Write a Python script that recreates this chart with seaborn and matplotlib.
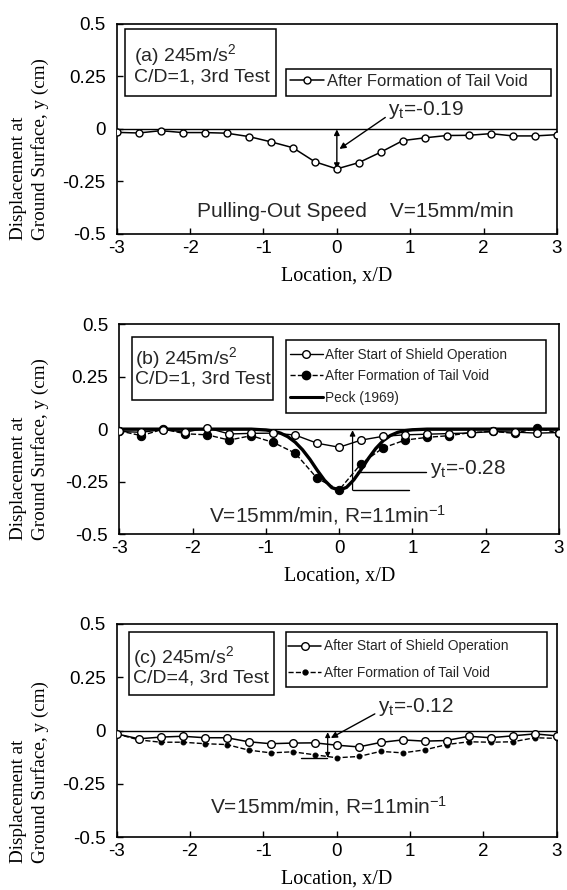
import matplotlib
matplotlib.use("Agg")
import matplotlib.pyplot as plt
from matplotlib.patches import Rectangle
from matplotlib.lines import Line2D
import seaborn as sns
import pandas as pd

sns.set_theme(style="white")
plt.rcParams["font.family"] = ["Liberation Sans", "DejaVu Sans"]
plt.rcParams["axes.unicode_minus"] = False
plt.rcParams["mathtext.fontset"] = "custom"
plt.rcParams["mathtext.rm"] = "Liberation Sans"
plt.rcParams["mathtext.it"] = "Liberation Sans:italic"
plt.rcParams["mathtext.default"] = "regular"

# ---------------- data ----------------
x_loc = [-3.0, -2.7, -2.4, -2.1, -1.8, -1.5, -1.2, -0.9, -0.6, -0.3, 0.0,
         0.3, 0.6, 0.9, 1.2, 1.5, 1.8, 2.1, 2.4, 2.7, 3.0]

a_tail = [-0.016, -0.019, -0.008, -0.017, -0.017, -0.020, -0.036, -0.061, -0.089,
          -0.156, -0.190, -0.160, -0.110, -0.055, -0.042, -0.031, -0.030, -0.022,
          -0.033, -0.033, -0.027]

b_shield = [-0.011, -0.015, -0.002, -0.014, 0.006, -0.023, -0.020, -0.019, -0.028,
            -0.067, -0.086, -0.052, -0.034, -0.027, -0.024, -0.021, -0.018, -0.011,
            -0.014, -0.019, -0.016]
b_tail = [-0.008, -0.031, 0.000, -0.022, -0.027, -0.052, -0.031, -0.063, -0.114,
          -0.234, -0.289, -0.164, -0.089, -0.052, -0.039, -0.031, -0.016, -0.011,
          -0.020, 0.006, -0.020]

peck_x = [-3.0, -1.2, -1.0, -0.9, -0.8, -0.7, -0.6, -0.5, -0.4, -0.3, -0.2, -0.1, 0.0,
          0.1, 0.2, 0.3, 0.4, 0.5, 0.6, 0.7, 0.8, 0.9, 1.0, 1.2, 3.0]
peck_y = [0.000, 0.000, -0.004, -0.009, -0.019, -0.036, -0.062, -0.098, -0.143,
          -0.195, -0.243, -0.278, -0.290, -0.277, -0.241, -0.192, -0.139, -0.092,
          -0.055, -0.030, -0.015, -0.007, -0.003, 0.000, 0.000]

c_shield = [-0.016, -0.039, -0.031, -0.027, -0.034, -0.034, -0.053, -0.062, -0.059,
            -0.058, -0.069, -0.077, -0.056, -0.044, -0.050, -0.047, -0.027, -0.034,
            -0.025, -0.016, -0.025]
c_tail = [-0.016, -0.044, -0.055, -0.055, -0.062, -0.066, -0.092, -0.105, -0.100,
          -0.114, -0.128, -0.122, -0.098, -0.105, -0.091, -0.066, -0.053, -0.055,
          -0.053, -0.034, -0.037]

x_ticks = [-3, -2, -1, 0, 1, 2, 3]
y_ticks = [-0.5, -0.25, 0, 0.25, 0.5]
y_tick_labels = ["-0.5", "-0.25", "0", "0.25", "0.5"]

label_shield = "After Start of Shield Operation"
label_tail = "After Formation of Tail Void"
label_peck = "Peck (1969)"

# ---------------- figure ----------------
fig = plt.figure(figsize=(5.67, 8.90), dpi=100)
W, H = 567.0, 890.0


def make_ax(left, right, top, bottom):
    return fig.add_axes([left / W, 1 - bottom / H, (right - left) / W, (bottom - top) / H])


ax_a = make_ax(116.7, 557.0, 24.0, 234.0)
ax_b = make_ax(119.3, 559.0, 324.0, 534.3)
ax_c = make_ax(116.7, 556.7, 624.0, 837.0)

serif = ["Liberation Serif", "DejaVu Serif"]


def style_axes(ax, ylab_bottom_px):
    ax.set_xlim(-3, 3)
    ax.set_ylim(-0.5, 0.5)
    ax.set_xticks(x_ticks)
    ax.set_xticklabels([str(t) for t in x_ticks])
    ax.set_yticks(y_ticks)
    ax.set_yticklabels(y_tick_labels)
    ax.tick_params(axis="both", direction="in", length=4, width=1, colors="black",
                   labelsize=13.5, left=True, bottom=True)
    ax.tick_params(axis="y", pad=8)
    ax.tick_params(axis="x", pad=4)
    for s in ax.spines.values():
        s.set_color("black")
        s.set_linewidth(1.2)
    ax.axhline(0, color="black", lw=1.0, zorder=1)
    ax.set_xlabel("Location, x/D", family=serif, fontsize=14.5, color="black",
                  labelpad=7)
    ax.set_ylabel("")
    fig.text(29.5 / W, 1 - ylab_bottom_px / H, "Displacement at\nGround Surface, y (cm)",
             rotation=90, ha="center", va="bottom", multialignment="left",
             family=serif, fontsize=13.8, linespacing=1.3, color="black")


def box(ax, x0, y0, x1, y1):
    ax.add_patch(Rectangle((x0, y0), x1 - x0, y1 - y0, transform=ax.transAxes,
                           fill=True, facecolor="white", edgecolor="black",
                           lw=1.1, zorder=3))


open_kw = dict(color="black", marker="o", markerfacecolor="white",
               markeredgecolor="black", markeredgewidth=1.0)

# ---------- panel (a) ----------
df_a = pd.DataFrame({"x": x_loc, "y": a_tail})
sns.lineplot(data=df_a, x="x", y="y", ax=ax_a, errorbar=None, lw=1.1,
             markersize=5, zorder=4, **open_kw)
style_axes(ax_a, 240)
box(ax_a, 0.019, 0.657, 0.362, 0.976)
ax_a.text(0.039, 0.852, r"(a) 245m/s$^2$", transform=ax_a.transAxes, fontsize=14,
          va="center", ha="left", zorder=5)
ax_a.text(0.039, 0.749, "C/D=1, 3rd Test", transform=ax_a.transAxes, fontsize=14,
          va="center", ha="left", zorder=5)
box(ax_a, 0.385, 0.657, 0.987, 0.786)
h_a = [Line2D([], [], lw=1.1, markersize=5, **open_kw)]
leg = ax_a.legend(h_a, [label_tail], loc="center left", bbox_to_anchor=(0.394, 0.725),
                  frameon=False, fontsize=12, handlelength=2.0, handletextpad=0.2,
                  borderpad=0, borderaxespad=0)
leg.set_zorder(6)
ax_a.text(0.543, 0.08, "Pulling-Out Speed    V=15mm/min", transform=ax_a.transAxes,
          fontsize=15, ha="center", va="baseline")
ax_a.annotate("", xy=(0, -0.19), xytext=(0, -0.002),
              arrowprops=dict(arrowstyle="<|-|>", color="black", lw=1.0,
                              mutation_scale=8, shrinkA=0, shrinkB=0))
ax_a.annotate("", xy=(0.036, -0.095), xytext=(0.66, 0.055),
              arrowprops=dict(arrowstyle="-|>", color="black", lw=1.0,
                              mutation_scale=9, shrinkA=0, shrinkB=0))
ax_a.text(0.70, 0.068, r"$\mathregular{y_t}$=-0.19", fontsize=15, ha="left",
          va="baseline")

# ---------- panel (b) ----------
df_b1 = pd.DataFrame({"x": x_loc, "y": b_shield})
df_b2 = pd.DataFrame({"x": x_loc, "y": b_tail})
df_pk = pd.DataFrame({"x": peck_x, "y": peck_y})
sns.lineplot(data=df_pk, x="x", y="y", ax=ax_b, errorbar=None, color="black", lw=2.4,
             zorder=3)
sns.lineplot(data=df_b2, x="x", y="y", ax=ax_b, errorbar=None, color="black", lw=1.0,
             linestyle="--", marker="o", markersize=6, markerfacecolor="black",
             markeredgecolor="black", zorder=4)
sns.lineplot(data=df_b1, x="x", y="y", ax=ax_b, errorbar=None, lw=1.0,
             markersize=5.5, zorder=5, **open_kw)
style_axes(ax_b, 540)
box(ax_b, 0.030, 0.640, 0.349, 0.940)
ax_b.text(0.036, 0.838, r"(b) 245m/s$^2$", transform=ax_b.transAxes, fontsize=14,
          va="center", ha="left", zorder=5)
ax_b.text(0.036, 0.738, "C/D=1, 3rd Test", transform=ax_b.transAxes, fontsize=14,
          va="center", ha="left", zorder=5)
box(ax_b, 0.378, 0.576, 0.971, 0.925)
h_b = [Line2D([], [], lw=1.0, markersize=5.5, **open_kw),
       Line2D([], [], color="black", lw=1.0, ls="--", marker="o", markersize=6,
              markerfacecolor="black"),
       Line2D([], [], color="black", lw=2.2)]
leg = ax_b.legend(h_b, [label_shield, label_tail, label_peck], loc="center left",
                  bbox_to_anchor=(0.388, 0.752), frameon=False, fontsize=9.8,
                  handlelength=2.4, handletextpad=0.2, borderpad=0, borderaxespad=0,
                  labelspacing=0.55)
leg.set_zorder(6)
ax_b.text(0.475, 0.055, r"V=15mm/min, R=11min$^{-1}$", transform=ax_b.transAxes,
          fontsize=15, ha="center", va="baseline")
ax_b.annotate("", xy=(0.183, -0.005), xytext=(0.183, -0.29),
              arrowprops=dict(arrowstyle="-|>", color="black", lw=0.9,
                              mutation_scale=8, shrinkA=0, shrinkB=0))
ax_b.plot([0.25, 1.19], [-0.205, -0.205], color="black", lw=1.0)
ax_b.plot([0.183, 0.955], [-0.29, -0.29], color="black", lw=1.0)
ax_b.text(1.24, -0.214, r"$\mathregular{y_t}$=-0.28", fontsize=15, ha="left",
          va="baseline")

# ---------- panel (c) ----------
df_c1 = pd.DataFrame({"x": x_loc, "y": c_shield})
df_c2 = pd.DataFrame({"x": x_loc, "y": c_tail})
sns.lineplot(data=df_c2, x="x", y="y", ax=ax_c, errorbar=None, color="black", lw=1.0,
             linestyle="--", marker="o", markersize=3.5, markerfacecolor="black",
             markeredgecolor="black", zorder=4)
sns.lineplot(data=df_c1, x="x", y="y", ax=ax_c, errorbar=None, lw=1.1,
             markersize=5.5, zorder=5, **open_kw)
style_axes(ax_c, 863)
box(ax_c, 0.029, 0.667, 0.357, 0.964)
ax_c.text(0.036, 0.844, r"(c) 245m/s$^2$", transform=ax_c.transAxes, fontsize=14,
          va="center", ha="left", zorder=5)
ax_c.text(0.036, 0.745, "C/D=4, 3rd Test", transform=ax_c.transAxes, fontsize=14,
          va="center", ha="left", zorder=5)
box(ax_c, 0.385, 0.703, 0.979, 0.961)
h_c = [Line2D([], [], lw=1.1, markersize=5.5, **open_kw),
       Line2D([], [], color="black", lw=1.0, ls="--", marker="o", markersize=3.5,
              markerfacecolor="black")]
leg = ax_c.legend(h_c, [label_shield, label_tail], loc="center left",
                  bbox_to_anchor=(0.39, 0.833), frameon=False, fontsize=9.9,
                  handlelength=2.4, handletextpad=0.2, borderpad=0, borderaxespad=0,
                  labelspacing=0.9)
leg.set_zorder(6)
ax_c.text(0.481, 0.111, r"V=15mm/min, R=11min$^{-1}$", transform=ax_c.transAxes,
          fontsize=15, ha="center", va="baseline")
ax_c.annotate("", xy=(-0.123, -0.128), xytext=(-0.123, -0.008),
              arrowprops=dict(arrowstyle="<|-|>", color="black", lw=0.9,
                              mutation_scale=7, shrinkA=0, shrinkB=0))
ax_c.plot([-0.49, -0.136], [-0.128, -0.128], color="black", lw=1.0)
ax_c.annotate("", xy=(-0.08, -0.035), xytext=(0.52, 0.078),
              arrowprops=dict(arrowstyle="-|>", color="black", lw=1.0,
                              mutation_scale=9, shrinkA=0, shrinkB=0))
ax_c.text(0.568, 0.087, r"$\mathregular{y_t}$=-0.12", fontsize=15, ha="left",
          va="baseline")

fig.savefig("out.png", dpi=100, facecolor="white")
